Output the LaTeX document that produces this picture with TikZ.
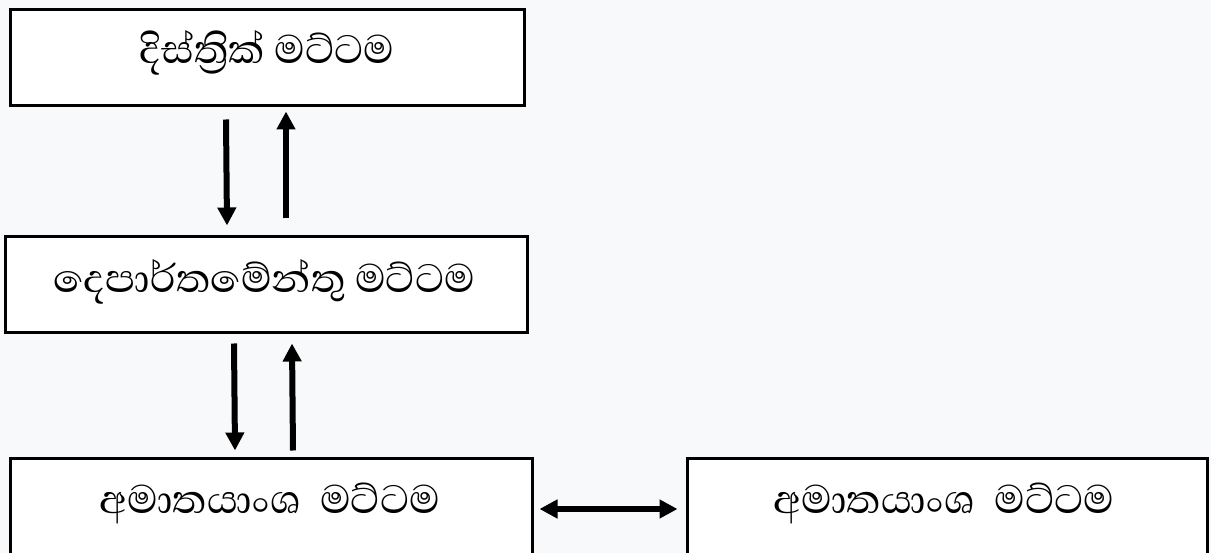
\documentclass[tikz,border=0pt]{standalone}
\usepackage{fontspec}
\newfontfamily\sinhala[Script=Sinhala]{Abhaya Libre}
\usetikzlibrary{arrows.meta,calc}
\definecolor{bgc}{HTML}{F8F9FA}
\tikzset{
  box/.style={draw=black, line width=3pt, fill=white, inner sep=0pt},
  lbl/.style={font=\sinhala\fontsize{51}{56}\selectfont, anchor=base, inner sep=0pt},
  arr/.style={line width=6pt, -{Triangle[length=18pt,width=18pt]}},
  darr/.style={line width=5.5pt, {Triangle[length=18pt,width=18pt]}-{Triangle[length=18pt,width=18pt]}}
}
\begin{document}
\begin{tikzpicture}[x=1pt,y=-1pt]
\fill[bgc] (0,0) rectangle (1211,553);
\useasboundingbox (0,0) rectangle (1211,553);
\node[box, minimum width=514pt, minimum height=96pt] (b1) at (267,58) {};
\node[box, minimum width=522pt, minimum height=96pt] (b2) at (266,285) {};
\node[box, minimum width=522pt, minimum height=102pt] (b3) at (271,509) {};
\node[box, minimum width=520pt, minimum height=102pt] (b4) at (947,509) {};
\node[lbl] (t1) at (267,64) {දිස්ත්‍රික් මට්ටම};
\node[lbl] (t2) at (264,293) {දෙපාර්තමේන්තු මට්ටම};
\node[lbl] (t3) at (270,513) {අමාතයාංශ\ \ මට්ටම};
\node[lbl] (t4) at (944,513) {අමාතයාංශ\ \ මට්ටම};
\draw[arr] ([xshift=-41pt,yshift=-12pt]b1.south) -- ([xshift=-39pt,yshift=10pt]b2.north);
\draw[arr] ([xshift=20pt,yshift=17pt]b2.north) -- ([xshift=19pt,yshift=-4pt]b1.south);
\draw[arr] ([xshift=-32pt,yshift=-9pt]b2.south) -- ([xshift=-36pt,yshift=6pt]b3.north);
\draw[arr] ([xshift=22pt,yshift=6pt]b3.north) -- ([xshift=26pt,yshift=-9pt]b2.south);
\draw[darr] ([xshift=6pt]b3.east) -- ([xshift=-8pt]b4.west);
\end{tikzpicture}
\end{document}
